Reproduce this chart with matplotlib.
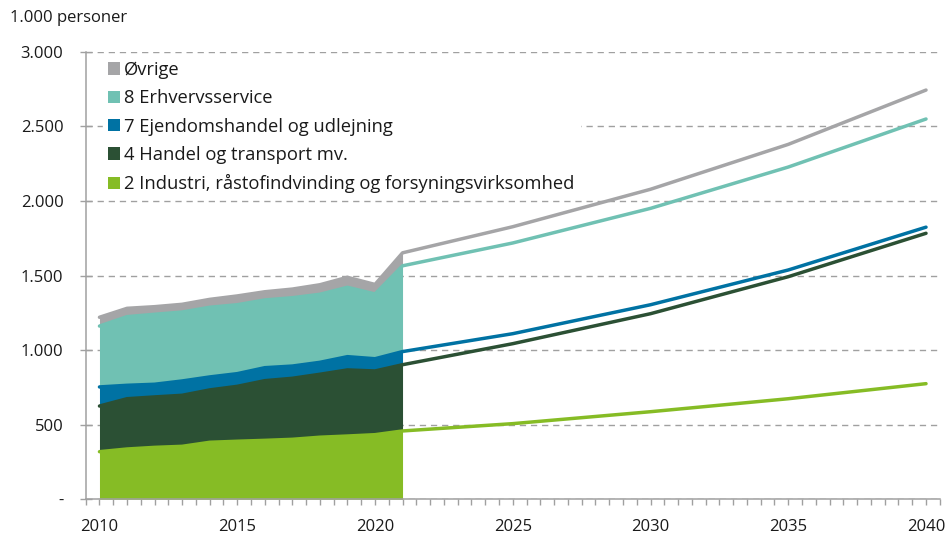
import numpy as np
import matplotlib
matplotlib.use("Agg")
import matplotlib.pyplot as plt
from matplotlib.patches import Patch
from matplotlib.ticker import FixedLocator, FuncFormatter

plt.rcParams['font.family'] = ['Open Sans', 'DejaVu Sans']
plt.rcParams['font.size'] = 12

# historisk periode (stablet areal), 1.000 personer
years_hist = [2010, 2011, 2012, 2013, 2014, 2015, 2016, 2017, 2018, 2019, 2020, 2021]
industri_hist = [319, 337, 348, 355, 382, 389, 395, 402, 416, 424, 433, 458]
handel_hist = [306, 337, 338, 342, 351, 368, 400, 409, 422, 443, 427, 444]
ejendom_hist = [128, 90, 85, 96, 87, 85, 87, 82, 80, 89, 82, 88]
erhverv_hist = [408, 460, 469, 462, 467, 462, 454, 458, 456, 465, 434, 575]
ovrige_hist = [59, 56, 51, 52, 53, 59, 55, 58, 64, 67, 64, 87]

# fremskrivning (linjer)
years_proj = [2025, 2030, 2035, 2040]
industri_proj = [507, 587, 674, 775]
handel_proj = [536, 657, 818, 1008]
ejendom_proj = [67, 60, 45, 41]
erhverv_proj = [608, 646, 690, 725]
ovrige_proj = [109, 128, 152, 194]

labels = ['2 Industri, råstofindvinding og forsyningsvirksomhed',
          '4 Handel og transport mv.',
          '7 Ejendomshandel og udlejning',
          '8 Erhvervsservice',
          'Øvrige']
colors = ['#86bc25', '#2b5034', '#0072a3', '#70c1b3', '#a5a5a7']

hist = np.cumsum([industri_hist, handel_hist, ejendom_hist, erhverv_hist, ovrige_hist], axis=0)
proj = np.cumsum([industri_proj, handel_proj, ejendom_proj, erhverv_proj, ovrige_proj], axis=0)
years_all = years_hist + years_proj
levels = np.concatenate([hist, proj], axis=1)

fig = plt.figure(figsize=(9.49, 5.36), dpi=100)
ax = fig.add_axes([0.0903, 0.0685, 0.9, 0.835])

grid_col = '#a0a0a0'
ax.grid(axis='y', color=grid_col, linestyle=(0, (4.5, 3.5)), linewidth=1.0, zorder=0)
ax.set_axisbelow(True)

# stablede arealer
lower = np.zeros(len(years_hist))
for i in range(5):
    ax.fill_between(years_hist, lower, hist[i], color=colors[i], linewidth=0, zorder=2)
    lower = hist[i]

# linjer for niveauer
for i in range(5):
    ax.plot(years_all, levels[i], color=colors[i], linewidth=2.5,
            solid_capstyle='round', zorder=3)

ax.set_xlim(2009.5, 2040.5)
ax.set_ylim(0, 3000)

ax.xaxis.set_major_locator(FixedLocator([2010, 2015, 2020, 2025, 2030, 2035, 2040]))
ax.xaxis.set_minor_locator(FixedLocator(np.arange(2009.5, 2040.6, 0.5)))
ax.set_yticks([0, 500, 1000, 1500, 2000, 2500, 3000])
ax.yaxis.set_major_formatter(FuncFormatter(
    lambda v, p: '-' if v == 0 else f'{int(v):,}'.replace(',', '.')))

for s in ['top', 'right']:
    ax.spines[s].set_visible(False)
for s in ['left', 'bottom']:
    ax.spines[s].set_color(grid_col)
    ax.spines[s].set_linewidth(1.1)

ax.tick_params(axis='y', which='major', direction='inout', length=8, color=grid_col,
               width=1.0, pad=12, labelsize=12, labelcolor='#1a1a1a')
ax.tick_params(axis='x', which='both', direction='out', length=4, color=grid_col,
               width=1.0, pad=10, labelsize=12, labelcolor='#1a1a1a')

handles = [Patch(facecolor=colors[i], edgecolor='none') for i in range(4, -1, -1)]
leg = ax.legend(handles, [labels[i] for i in range(4, -1, -1)], loc='upper left',
                bbox_to_anchor=(0.0197, 0.9915), frameon=True, fancybox=False,
                framealpha=1, edgecolor='white', facecolor='white',
                handlelength=0.65, handleheight=0.65, handletextpad=0.22,
                labelspacing=0.56, borderpad=0.3, borderaxespad=0.0, fontsize=13.2)
leg.set_zorder(5)
for t in leg.get_texts():
    t.set_color('#1a1a1a')

fig.text(0.011, 0.966, '1.000 personer', fontsize=12, color='#1a1a1a', va='center')

fig.savefig('out.png', dpi=100)
